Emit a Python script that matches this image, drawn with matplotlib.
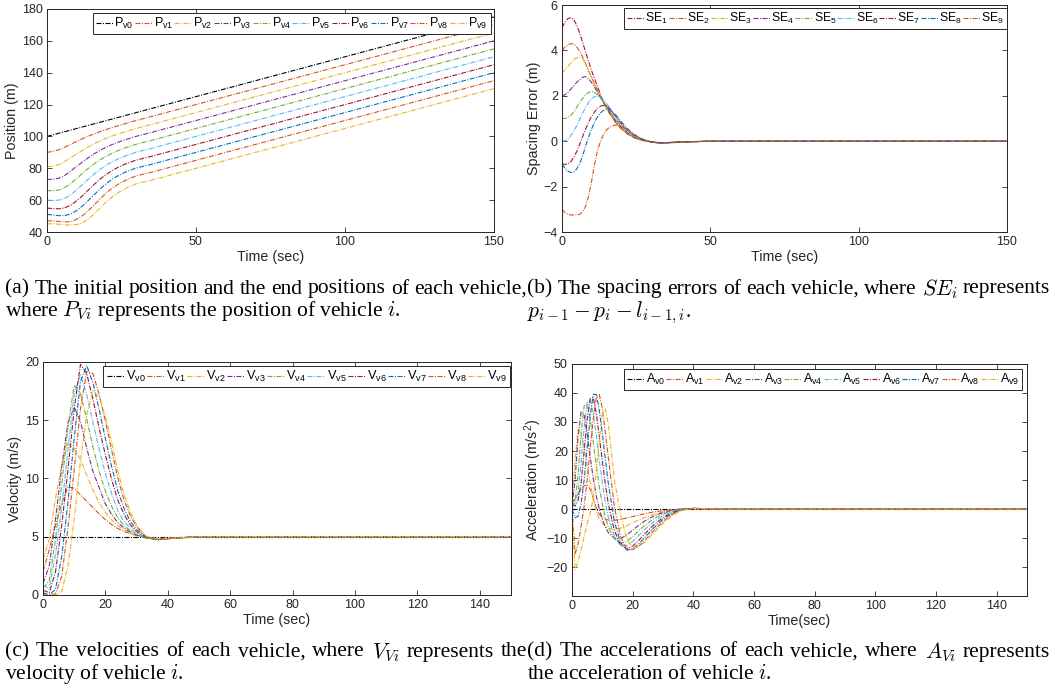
import matplotlib
matplotlib.use('Agg')
import matplotlib.pyplot as plt

plt.rcParams['font.family'] = 'Liberation Sans'
plt.rcParams['mathtext.fontset'] = 'custom'
plt.rcParams['mathtext.rm'] = 'Liberation Sans'
plt.rcParams['mathtext.it'] = 'Liberation Sans:italic'
plt.rcParams['mathtext.bf'] = 'Liberation Sans:bold'

# matlab default colours
BLUE = '#0072BD'
ORANGE = '#D95319'
YELLOW = '#EDB120'
PURPLE = '#7E2F8E'
GREEN = '#77AC30'
CYAN = '#4DBEEE'
RED = '#A2142F'
GREY = '#262626'

veh_colors = ['black', ORANGE, YELLOW, PURPLE, GREEN, CYAN, RED, BLUE, ORANGE, YELLOW]
se_colors = [RED, ORANGE, YELLOW, PURPLE, GREEN, CYAN, RED, BLUE, ORANGE]

# ---- (a) positions ----
t_pos = [0, 2, 4, 6, 8, 10, 12, 14, 16, 18, 20, 22, 24, 26, 28, 30, 35, 40, 50, 150]
P0 = [100, 101, 102, 103, 104, 105, 106, 107, 108, 109, 110, 111, 112, 113, 114, 115, 117.5, 120, 125, 175]
P1 = [90, 90.6, 91.65, 93.25, 95.1, 96.9, 98.6, 100.25, 101.75, 103.15, 104.45, 105.67, 106.82, 107.92, 108.98, 110.03, 112.5, 115, 120, 170]
P2 = [81, 81.35, 82.37, 84.3, 86.7, 89.1, 91.35, 93.55, 95.53, 97.3, 98.9, 100.34, 101.64, 102.84, 103.96, 105.06, 107.5, 110, 115, 165]
P3 = [73, 73.05, 73.77, 75.6, 78.3, 81.3, 84.1, 86.83, 89.28, 91.42, 93.32, 94.99, 96.45, 97.76, 98.94, 100.09, 102.5, 105, 110, 160]
P4 = [66, 65.9, 66.32, 67.88, 70.45, 73.72, 76.95, 80.13, 82.98, 85.5, 87.7, 89.61, 91.25, 92.67, 93.92, 95.12, 97.5, 100, 105, 155]
P5 = [60, 59.85, 60.02, 61.18, 63.4, 66.52, 69.9, 73.41, 76.62, 79.52, 82.04, 84.2, 86.02, 87.57, 88.9, 90.15, 92.5, 95, 100, 150]
P6 = [55, 54.75, 54.57, 55.2, 56.9, 59.64, 62.9, 66.58, 70.14, 73.45, 76.32, 78.75, 80.76, 82.45, 83.88, 85.18, 87.5, 90, 95, 145]
P7 = [51, 50.75, 50.27, 50.32, 51.35, 53.54, 56.45, 60.0, 63.69, 67.33, 70.54, 73.25, 75.47, 77.31, 78.86, 80.21, 82.5, 85, 90, 140]
P8 = [47, 47.07, 46.63, 46.3, 46.55, 47.99, 50.37, 53.64, 57.29, 61.15, 64.68, 67.69, 70.14, 72.15, 73.84, 75.24, 77.5, 80, 85, 135]
P9 = [45, 45.29, 44.88, 44.52, 44.4, 44.74, 45.77, 48.34, 51.67, 55.43, 59.0, 62.19, 64.82, 66.99, 68.82, 70.27, 72.5, 75, 80, 130]
positions = [P0, P1, P2, P3, P4, P5, P6, P7, P8, P9]

# ---- (b) spacing errors ----
t_se = [0, 1, 2, 3, 4, 5, 6, 7, 8, 9, 10, 11, 12, 13, 14, 15, 16,
        18, 20, 22, 24, 26, 28, 30, 33, 36, 40, 50, 150]
SE1 = [5.0, 5.25, 5.4, 5.45, 5.35, 5.1, 4.75, 4.35, 3.9, 3.5, 3.1, 2.75, 2.4, 2.05, 1.75, 1.5, 1.25,
       0.85, 0.55, 0.33, 0.18, 0.08, 0.02, -0.03, -0.07, -0.06, -0.03, 0, 0]
SE2 = [4.0, 4.15, 4.25, 4.3, 4.28, 4.15, 3.95, 3.7, 3.4, 3.1, 2.8, 2.5, 2.25, 1.95, 1.7, 1.45, 1.22,
       0.85, 0.55, 0.33, 0.18, 0.08, 0.02, -0.03, -0.07, -0.06, -0.03, 0, 0]
SE3 = [3.0, 3.15, 3.3, 3.45, 3.6, 3.68, 3.7, 3.62, 3.4, 3.1, 2.8, 2.5, 2.25, 1.98, 1.72, 1.48, 1.25,
       0.88, 0.58, 0.35, 0.19, 0.08, 0.02, -0.03, -0.07, -0.06, -0.03, 0, 0]
SE4 = [2.0, 2.05, 2.15, 2.3, 2.45, 2.6, 2.72, 2.82, 2.85, 2.75, 2.58, 2.38, 2.15, 1.92, 1.7, 1.5, 1.3,
       0.92, 0.62, 0.38, 0.2, 0.09, 0.02, -0.03, -0.07, -0.06, -0.03, 0, 0]
SE5 = [1.0, 1.0, 1.05, 1.15, 1.3, 1.5, 1.7, 1.9, 2.05, 2.15, 2.2, 2.15, 2.05, 1.9, 1.72, 1.55, 1.36,
       0.98, 0.66, 0.41, 0.23, 0.1, 0.02, -0.03, -0.07, -0.06, -0.03, 0, 0]
SE6 = [0.0, 0.02, 0.1, 0.25, 0.45, 0.7, 0.98, 1.25, 1.5, 1.72, 1.88, 1.97, 2.0, 1.95, 1.83, 1.67, 1.48,
       1.07, 0.72, 0.45, 0.26, 0.12, 0.03, -0.03, -0.07, -0.06, -0.03, 0, 0]
SE7 = [-1.0, -1.02, -1.0, -0.9, -0.7, -0.45, -0.12, 0.22, 0.55, 0.85, 1.1, 1.3, 1.45, 1.55, 1.58, 1.55, 1.45,
       1.12, 0.78, 0.5, 0.29, 0.14, 0.04, -0.03, -0.07, -0.06, -0.03, 0, 0]
SE8 = [-1.0, -1.2, -1.32, -1.38, -1.36, -1.22, -0.98, -0.62, -0.2, 0.2, 0.55, 0.85, 1.08, 1.25, 1.36, 1.42, 1.4,
       1.18, 0.86, 0.56, 0.33, 0.16, 0.05, -0.02, -0.07, -0.06, -0.03, 0, 0]
SE9 = [-3.0, -3.15, -3.22, -3.25, -3.25, -3.25, -3.22, -3.1, -2.85, -2.4, -1.75, -1.0, -0.4, 0.0, 0.3, 0.5, 0.62,
       0.72, 0.68, 0.5, 0.32, 0.16, 0.05, -0.03, -0.1, -0.08, -0.04, 0, 0]
spacing = [SE1, SE2, SE3, SE4, SE5, SE6, SE7, SE8, SE9]

# ---- (c) velocities ----
t_vel = [0, 2, 4, 6, 8, 10, 12, 14, 16, 18, 20, 22, 24, 26, 28, 30, 33, 37, 42, 50, 150]
V0 = [5] * 21
V1 = [2.0, 3.9, 6.0, 7.9, 9.3, 9.15, 8.6, 8.05, 7.5, 6.95, 6.45, 6.05, 5.7, 5.45, 5.25, 5.1, 4.95, 4.85, 4.92, 5.0, 5.0]
V2 = [3.0, 4.8, 8.3, 11.2, 13.0, 12.6, 11.6, 10.3, 9.0, 7.9, 7.1, 6.45, 5.95, 5.6, 5.3, 5.1, 4.9, 4.75, 4.88, 5.0, 5.0]
V3 = [1.0, 2.5, 6.5, 11.0, 14.8, 16.1, 14.9, 12.6, 10.6, 9.2, 7.8, 6.9, 6.2, 5.75, 5.4, 5.15, 4.9, 4.75, 4.88, 5.0, 5.0]
V4 = [0.6, 1.2, 4.8, 9.5, 14.5, 18.0, 17.3, 15.1, 12.7, 10.6, 8.9, 7.6, 6.6, 5.95, 5.5, 5.2, 4.9, 4.75, 4.88, 5.0, 5.0]
V5 = [0.8, 0.6, 3.5, 7.5, 12.5, 17.3, 18.9, 17.2, 14.8, 12.5, 10.4, 8.7, 7.2, 6.3, 5.7, 5.3, 4.95, 4.75, 4.88, 5.0, 5.0]
V6 = [0.4, 0.2, 2.0, 6.0, 10.8, 16.0, 19.8, 19.0, 16.8, 14.3, 12.0, 9.9, 8.1, 6.9, 6.0, 5.45, 4.95, 4.75, 4.88, 5.0, 5.0]
V7 = [0.2, 0.0, 0.5, 3.3, 8.0, 13.5, 18.3, 19.7, 18.2, 15.9, 13.4, 11.0, 8.9, 7.4, 6.3, 5.6, 5.0, 4.75, 4.88, 5.0, 5.0]
V8 = [0.1, 0.0, 0.1, 1.6, 5.8, 10.8, 16.0, 19.2, 19.0, 17.2, 14.9, 12.4, 10.0, 8.1, 6.8, 5.85, 5.0, 4.78, 4.88, 5.0, 5.0]
V9 = [0.0, 0.0, 0.0, 0.3, 2.5, 6.5, 11.5, 15.5, 17.5, 17.0, 15.3, 13.1, 10.6, 8.6, 7.1, 6.0, 5.05, 4.8, 4.88, 5.0, 5.0]
velocities = [V0, V1, V2, V3, V4, V5, V6, V7, V8, V9]

# ---- (d) accelerations ----
t_acc = [0, 1, 2, 3, 4, 5, 6, 7, 8, 9, 10, 11, 12,
         14, 16, 18, 20, 22, 24, 27, 30, 33, 36, 40, 50, 150]
A0 = [0] * 26
A1 = [2, 3.5, 5.2, 6.8, 8.0, 8.2, 6.8, 3.8, 0.3, -1.8, -2.9, -3.5, -3.8,
      -3.9, -3.6, -3.1, -2.6, -2.1, -1.6, -1.0, -0.6, -0.3, -0.05, 0.1, 0, 0]
A2 = [2, 17, 27.5, 26, 21, 15, 9, 3.5, -0.8, -3.5, -5.0, -6.0, -6.6,
      -7.0, -6.6, -5.8, -4.8, -3.8, -2.9, -1.8, -1.0, -0.4, -0.05, 0.15, 0, 0]
A3 = [1, 10, 25, 33.5, 32.5, 26, 18, 10.5, 4.5, 0, -3.5, -6.2, -8.2,
      -10.1, -10.2, -9.0, -7.3, -5.6, -4.1, -2.4, -1.2, -0.4, 0, 0.2, 0, 0]
A4 = [0.5, 3, 12, 26, 35.5, 36.5, 31, 23, 15, 7.5, 1.5, -3, -6.3,
      -10.3, -11.8, -11.2, -9.5, -7.5, -5.6, -3.3, -1.7, -0.6, 0, 0.2, 0, 0]
A5 = [1, 2, 6, 16, 28, 36.5, 37.5, 33, 25.5, 17, 9, 2, -3,
      -9.5, -12.5, -12.6, -11.2, -9.1, -7.0, -4.3, -2.3, -0.9, -0.1, 0.2, 0, 0]
A6 = [1.5, 1, 3, 9, 20, 31, 38, 38.5, 33, 25, 16.5, 8.5, 1.5,
      -7.5, -12.5, -13.7, -12.8, -10.8, -8.6, -5.4, -3.0, -1.2, -0.2, 0.2, 0, 0]
A7 = [0, -3, -2.5, 2, 10, 21, 32, 39.5, 39.5, 34, 26, 17, 8.5,
      -4.5, -11.5, -14.2, -13.8, -12.0, -9.8, -6.4, -3.6, -1.5, -0.3, 0.2, 0, 0]
A8 = [0, -15.5, -12, -6, 1, 10, 21, 31, 38.5, 39.5, 34.5, 26, 17.5,
      0.5, -9.5, -13.7, -14.0, -12.8, -10.8, -7.3, -4.3, -1.9, -0.4, 0.2, 0, 0]
A9 = [0, -21, -18, -14, -9.5, -5, -1.5, 4, 13, 24, 33, 34.5, 29,
      10, -2, -10, -13.4, -13.0, -11.4, -8.2, -5.0, -2.3, -0.5, 0.2, 0, 0]
accels = [A0, A1, A2, A3, A4, A5, A6, A7, A8, A9]

# short matlab-like dash-dot
DASHDOT = (0, (4.5, 1.35, 0.9, 1.35))


def style(ax, xticks, yticks, ylim, xlabel, ylabel):
    ax.set_xlim(0, 150)
    ax.set_ylim(ylim)
    ax.set_xticks(xticks)
    ax.set_yticks(yticks)
    ax.tick_params(direction='in', top=True, right=True, labelsize=9,
                   colors=GREY, length=3.5, width=0.6, pad=3)
    for s in ax.spines.values():
        s.set_color(GREY)
        s.set_linewidth(0.7)
    ax.set_xlabel(xlabel, fontsize=10.3, color=GREY, labelpad=1)
    ax.set_ylabel(ylabel, fontsize=10.3, color=GREY, labelpad=2)


def add_legend(ax, anchor, size):
    leg = ax.legend(ncol=10, loc='upper right', bbox_to_anchor=anchor, fontsize=size,
                    handlelength=1.4, handletextpad=0.1, columnspacing=0.1,
                    borderpad=0.25, borderaxespad=0, fancybox=False,
                    edgecolor=GREY, framealpha=1)
    leg.get_frame().set_linewidth(0.7)


fig = plt.figure(figsize=(10.55, 6.92), dpi=100)
ax_a = fig.add_axes([0.0445, 0.6647, 0.4237, 0.3223])
ax_b = fig.add_axes([0.5327, 0.6647, 0.4218, 0.3280])
ax_c = fig.add_axes([0.0408, 0.1402, 0.4436, 0.3367])
ax_d = fig.add_axes([0.5422, 0.1387, 0.4313, 0.3353])

lw = 0.8
for i, p in enumerate(positions):
    ax_a.plot(t_pos, p, ls=DASHDOT, color=veh_colors[i], lw=lw, label=r'P$_{\rm v%d}$' % i)
style(ax_a, [0, 50, 100, 150], range(40, 181, 20), (40, 180), 'Time (sec)', 'Position (m)')
add_legend(ax_a, (0.993, 0.982), 9)

for i, s in enumerate(spacing):
    ax_b.plot(t_se, s, ls=DASHDOT, color=se_colors[i], lw=lw, label=r'SE$_{\rm %d}$' % (i + 1))
style(ax_b, [0, 50, 100, 150], range(-4, 7, 2), (-4, 6), 'Time (sec)', 'Spacing Error (m)')
add_legend(ax_b, (1.0, 0.987), 8.7)

for i, v in enumerate(velocities):
    ax_c.plot(t_vel, v, ls=DASHDOT, color=veh_colors[i], lw=lw, label=r'V$_{\rm v%d}$' % i)
style(ax_c, range(0, 141, 20), range(0, 21, 5), (0, 20), 'Time (sec)', 'Velocity (m/s)')
add_legend(ax_c, (0.998, 0.983), 9.2)

for i, a in enumerate(accels):
    ax_d.plot(t_acc, a, ls=DASHDOT, color=veh_colors[i], lw=lw, label=r'A$_{\rm v%d}$' % i)
style(ax_d, range(0, 141, 20), range(-20, 51, 10), (-30, 50), 'Time(sec)', r'Acceleration (m/s$^2$)')
add_legend(ax_d, (0.989, 0.978), 9)

# captions
cap = dict(fontfamily='Liberation Serif', math_fontfamily='cm', fontsize=15.5,
           va='center', ha='left', color='black')
W, H = 1055.0, 692.0


def caption(x, y, s):
    fig.text(x / W, 1 - y / H, s, **cap)


def justified(x0, x1, y, line):
    # first caption lines are justified like in the paper
    words = line.split(' ')
    texts = [fig.text(x0 / W, 1 - y / H, w, **cap) for w in words]
    r = fig.canvas.get_renderer()
    widths = [t.get_window_extent(r).width for t in texts]
    gap = (x1 - x0 - sum(widths)) / (len(words) - 1)
    x = x0
    for t, w in zip(texts, widths):
        t.set_x(x / W)
        x += w + gap


justified(5, 527, 289, '(a) The initial position and the end positions of each vehicle,')
caption(5, 311, r'where $P_{Vi}$ represents the position of vehicle $i$.')
justified(527, 1050, 289, r'(b) The spacing errors of each vehicle, where $SE_i$ represents')
caption(527, 313, r'$p_{i-1} - p_i - l_{i-1,i}$.')
justified(5, 527, 652, r'(c) The velocities of each vehicle, where $V_{Vi}$ represents the')
caption(5, 674, r'velocity of vehicle $i$.')
justified(527, 1050, 652, r'(d) The accelerations of each vehicle, where $A_{Vi}$ represents')
caption(527, 674, r'the acceleration of vehicle $i$.')

fig.savefig('out.png', dpi=100)
